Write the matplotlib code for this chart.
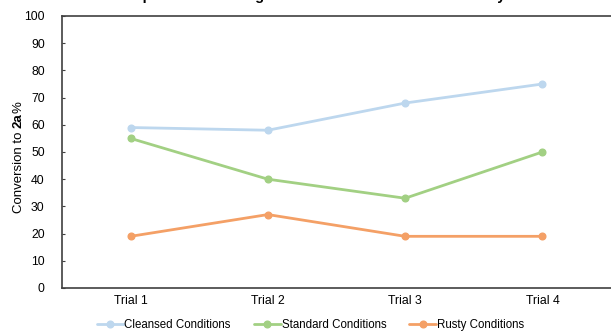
import matplotlib
matplotlib.use("Agg")
import matplotlib.pyplot as plt
from matplotlib.font_manager import findfont, FontProperties
from matplotlib.ft2font import FT2Font

plt.rcParams['font.family'] = ['Liberation Sans', 'DejaVu Sans']

trials = ["Trial 1", "Trial 2", "Trial 3", "Trial 4"]
cleansed = [59, 58, 68, 75]
standard = [55, 40, 33, 50]
rusty = [19, 27, 19, 19]
series_names = ["Cleansed Conditions", "Standard Conditions", "Rusty Conditions"]
series_colors = ["#BDD7EE", "#A2D083", "#F4A066"]
title = "Comparison of Storage Effects on Conversion Efficiency"
ylabel_parts = [("Conversion to ", "normal"), ("2a", "bold"), ("%", "normal")]

W, H = 611, 333
DPI = 100
TICK_FS = 8.8
LEG_FS = 8.3
YLAB_FS = 9.5
fig = plt.figure(figsize=(W / DPI, H / DPI), dpi=DPI)
ax = fig.add_axes([62 / W, 45 / H, 549 / W, 272 / H])

x = list(range(len(trials)))
for vals, name, col in zip([cleansed, standard, rusty], series_names, series_colors):
    ax.plot(x, vals, color=col, lw=2.0, marker='o', ms=4.8, label=name,
            solid_capstyle='round')

ax.set_xlim(-0.5, len(trials) - 0.5)
ax.set_ylim(0, 100)
ax.set_yticks(range(0, 101, 10))
ax.set_xticks(x)
ax.set_xticklabels(trials)
ax.tick_params(axis='y', direction='in', length=2.5, width=0.8, colors='#404040',
               labelsize=TICK_FS, labelcolor='black', pad=12.5)
ax.tick_params(axis='x', length=0, labelsize=TICK_FS, labelcolor='black', pad=5)
for side in ['left', 'top', 'bottom']:
    ax.spines[side].set_color('#404040')
    ax.spines[side].set_linewidth(1.2)
ax.spines['right'].set_visible(False)


def advance_px(txt, weight, size):
    """Sum of glyph advance widths (pixels) for txt in Liberation Sans."""
    font = FT2Font(findfont(FontProperties(family='Liberation Sans', weight=weight)))
    font.set_size(size, DPI)
    return sum(font.load_char(ord(ch)).linearHoriAdvance / 65536 for ch in txt)


# Y-axis title with a bold compound number, assembled from rotated pieces
widths = [advance_px(txt, weight, YLAB_FS) for txt, weight in ylabel_parts]
total = sum(widths)
y_center = H - 157
baseline_x = 21.5
pos = y_center - total / 2
for (txt, weight), w in zip(ylabel_parts, widths):
    fig.text(baseline_x / W, pos / H, txt, fontsize=YLAB_FS, fontweight=weight,
             rotation=90, rotation_mode='anchor', ha='left', va='baseline')
    pos += w

# Chart title sits at the very top edge of the canvas
fig.text(0.503, 1 + 0.5 / H, title, ha='center', va='baseline',
         fontsize=10.5, fontweight='bold')

fig.legend(loc='lower center', ncol=3, bbox_to_anchor=(0.508, -0.026),
           frameon=False, fontsize=LEG_FS, handlelength=2.35, handletextpad=0.05,
           columnspacing=2.0)

fig.savefig("out.png", dpi=DPI)
